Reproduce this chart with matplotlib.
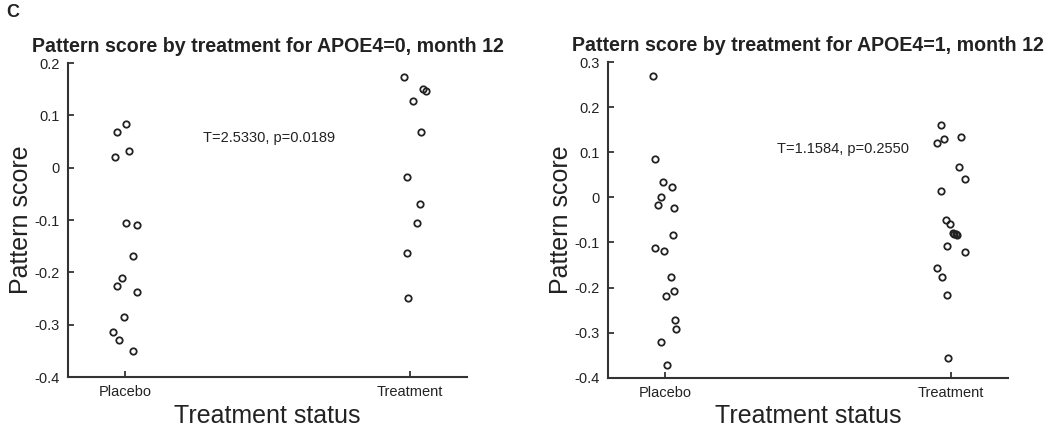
import matplotlib.pyplot as plt

plt.rcParams['font.family'] = ['Liberation Sans', 'DejaVu Sans']

# --------------------- Data --------------------- #
groups = ['Placebo', 'Treatment']

# APOE4=0, month 12
apoe0_placebo = [0.021, 0.069, 0.083, 0.031, -0.105, -0.110, -0.168, -0.211,
                 -0.226, -0.238, -0.286, -0.314, -0.329, -0.350]
apoe0_placebo_jit = [-0.035, -0.029, 0.004, 0.015, 0.004, 0.043, 0.029, -0.012,
                     -0.027, 0.041, -0.004, -0.041, -0.020, 0.027]
apoe0_treat = [0.173, 0.150, 0.146, 0.128, 0.068, -0.017, -0.069, -0.106,
               -0.163, -0.249]
apoe0_treat_jit = [-0.020, 0.047, 0.055, 0.012, 0.038, -0.009, 0.035, 0.024,
                   -0.011, -0.006]
apoe0_stats = 'T=2.5330, p=0.0189'

# APOE4=1, month 12
apoe1_placebo = [0.269, 0.085, 0.035, 0.022, 0.001, -0.018, -0.024, -0.083,
                 -0.113, -0.119, -0.176, -0.207, -0.219, -0.273, -0.292,
                 -0.320, -0.371]
apoe1_placebo_jit = [-0.043, -0.035, -0.009, 0.023, -0.013, -0.024, 0.031,
                     0.028, -0.037, -0.003, 0.021, 0.030, 0.003, 0.036, 0.038,
                     -0.016, 0.008]
apoe1_treat = [0.161, 0.129, 0.120, 0.133, 0.068, 0.040, 0.014, -0.051, -0.059,
               -0.080, -0.082, -0.081, -0.083, -0.109, -0.122, -0.157, -0.176,
               -0.216, -0.357]
apoe1_treat_jit = [-0.036, -0.024, -0.048, 0.034, 0.028, 0.049, -0.036, -0.017,
                   -0.003, 0.006, 0.012, 0.018, 0.022, -0.013, 0.051, -0.048,
                   -0.031, -0.013, -0.010]
apoe1_stats = 'T=1.1584, p=0.2550'

ink = '#222222'


def draw_panel(ax, placebo, placebo_jit, treat, treat_jit, title, stats,
               stats_xy, ylim, yticks):
    ax.plot([1 + j for j in placebo_jit], placebo, 'o', mfc='none', mec=ink,
            ms=4.6, mew=1.3)
    ax.plot([2 + j for j in treat_jit], treat, 'o', mfc='none', mec=ink,
            ms=4.6, mew=1.3)
    ax.set_xlim(0.8, 2.2)
    ax.set_ylim(*ylim)
    ax.set_xticks([1, 2])
    ax.set_xticklabels(groups)
    ax.set_yticks(yticks)
    ax.set_yticklabels([('%g' % t) for t in yticks])
    ax.tick_params(direction='in', length=4, width=1.2, labelsize=10.5,
                   colors=ink, pad=6)
    for side in ['top', 'right']:
        ax.spines[side].set_visible(False)
    for side in ['left', 'bottom']:
        ax.spines[side].set_linewidth(1.5)
        ax.spines[side].set_color('#333333')
    ax.set_title(title, fontsize=14.1, fontweight='bold', color=ink, pad=8)
    ax.set_xlabel('Treatment status', fontsize=18, color=ink, labelpad=3)
    ax.set_ylabel('Pattern score', fontsize=18, color=ink, labelpad=1)
    ax.text(stats_xy[0], stats_xy[1], stats, fontsize=10.5, color=ink,
            va='center', ha='left')


fig = plt.figure(figsize=(10.5, 4.34), dpi=100)
ax1 = fig.add_axes([0.0648, 0.1313, 0.380, 0.7235])
ax2 = fig.add_axes([0.579, 0.1297, 0.381, 0.7273])

draw_panel(ax1, apoe0_placebo, apoe0_placebo_jit, apoe0_treat, apoe0_treat_jit,
           'Pattern score by treatment for APOE4=0, month 12', apoe0_stats,
           (1.274, 0.057), (-0.4, 0.2), [-0.4, -0.3, -0.2, -0.1, 0, 0.1, 0.2])
draw_panel(ax2, apoe1_placebo, apoe1_placebo_jit, apoe1_treat, apoe1_treat_jit,
           'Pattern score by treatment for APOE4=1, month 12', apoe1_stats,
           (1.392, 0.107), (-0.4, 0.3),
           [-0.4, -0.3, -0.2, -0.1, 0, 0.1, 0.2, 0.3])

fig.text(0.006, 0.972, 'C', fontsize=13, fontweight='bold', color=ink,
         va='center', ha='left')

fig.savefig('out.png', dpi=100)
plt.close(fig)
